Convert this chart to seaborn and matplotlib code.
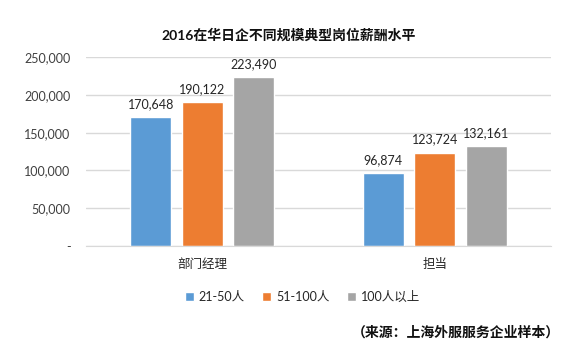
import pandas as pd
import numpy as np
import matplotlib.pyplot as plt
import seaborn as sns

# data
positions = ['部门经理', '担当']
sizes = ['21-50人', '51-100人', '100人以上']
salary_21_50 = [170648, 96874]
salary_51_100 = [190122, 123724]
salary_100_plus = [223490, 132161]
yticks = [0, 50000, 100000, 150000, 200000, 250000]

df = pd.DataFrame({
    'position': positions * 3,
    'size': [s for s in sizes for _ in positions],
    'salary': salary_21_50 + salary_51_100 + salary_100_plus,
})

sns.set_style('white')
plt.rcParams['font.family'] = ['Lato', 'Noto Sans CJK SC', 'DejaVu Sans']

colors = ['#5B9BD5', '#ED7D31', '#A5A5A5']

fig = plt.figure(figsize=(5.87, 3.57), dpi=100)
ax = fig.add_axes([0.1465, 0.311, 0.792, 0.529])

sns.barplot(data=df, x='position', y='salary', hue='size', palette=colors,
            width=0.664, gap=0.2, ax=ax, legend=True, saturation=1)

for c in ax.containers:
    ax.bar_label(c, labels=[f'{v:,.0f}' for v in c.datavalues],
                 padding=5, fontsize=9, color='#262626')

ax.set_ylim(0, 250000)
ax.set_yticks(yticks)
ax.set_yticklabels(['-'] + [f'{v:,}' for v in yticks[1:]])
ax.yaxis.grid(True, color='#D9D9D9', linewidth=1)
ax.set_axisbelow(True)
for s in ['top', 'right', 'left']:
    ax.spines[s].set_visible(False)
ax.spines['bottom'].set_color('#D9D9D9')
ax.tick_params(axis='y', length=0, labelsize=9, labelcolor='#404040', pad=11)
ax.tick_params(axis='x', length=0, labelsize=9, labelcolor='#262626', pad=9)
ax.set_xlabel('')
ax.set_ylabel('')

handles, labels = ax.get_legend_handles_labels()
ax.get_legend().remove()
fig.legend(handles, labels, loc='center', bbox_to_anchor=(0.515, 1 - 297 / 357),
           ncol=3, frameon=False, fontsize=9, handlelength=0.7, handleheight=0.7,
           handletextpad=0.4, columnspacing=1.4)

fig.text(0.492, 1 - 35 / 357, '2016在华日企不同规模典型岗位薪酬水平',
         ha='center', va='center', fontsize=10, fontweight='bold',
         family=['Lato', 'Noto Sans CJK SC'], color='#111111')
fig.text(560 / 587, 1 - 333 / 357, '（来源：上海外服服务企业样本）',
         ha='right', va='center', fontsize=10, fontweight='bold',
         family=['Noto Sans CJK SC'], color='#111111')

fig.savefig('out.png', dpi=100)
